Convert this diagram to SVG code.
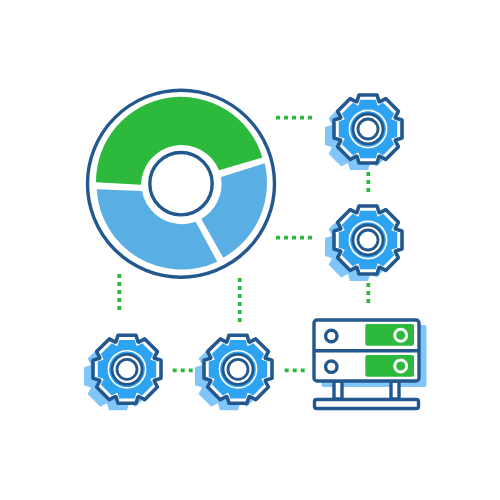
<svg xmlns="http://www.w3.org/2000/svg" xmlns:xlink="http://www.w3.org/1999/xlink" width="500" height="500" viewBox="0 0 500 500">
<style>
.dot{fill:none;stroke:#2cb93c;stroke-width:3.8;stroke-dasharray:4 4}
.dk{stroke:#23588f;stroke-width:3.4;fill:#fff}
.grn{fill:#2cb93c}
.bl{fill:#59aee3}
.shadow{fill:#80c6fa}
.wr{fill:none;stroke:#fff;stroke-width:1.6}
.dr{fill:none;stroke:#23588f;stroke-width:3.4}
.wc{fill:none;stroke:#fff;stroke-width:3}
</style>
<defs>
<path id="g" d="M-9,-34L9,-34L11,-27.5L11.7,-27.2L17.7,-30.4L30.4,-17.7L27.2,-11.7L27.5,-11L34,-9L34,9L27.5,11L27.2,11.7L30.4,17.7L17.7,30.4L11.7,27.2L11,27.5L9,34L-9,34L-11,27.5L-11.7,27.2L-17.7,30.4L-30.4,17.7L-27.2,11.7L-27.5,11L-34,9L-34,-9L-27.5,-11L-27.2,-11.7L-30.4,-17.7L-17.7,-30.4L-11.7,-27.2L-11,-27.5Z"/>
<g id="gear">
<use xlink:href="#g" href="#g" class="shadow" transform="translate(-9,7)"/>
<use xlink:href="#g" href="#g" fill="#fff" stroke="#23588f" stroke-width="3.6" stroke-linejoin="round"/>
<use xlink:href="#g" href="#g" fill="#2ea3f2" transform="scale(.86)"/>
<circle r="18.6" class="wr"/>
<circle r="15" fill="#fff" stroke="#23588f" stroke-width="2.8"/>
<circle r="10" fill="#fff" stroke="#23588f" stroke-width="2.8"/>
</g>
</defs>
<g id="connectors">
<path class="dot" d="M276,117.7H313"/>
<path class="dot" d="M276,237.7H313"/>
<path class="dot" d="M368.3,172V192"/>
<path class="dot" d="M368.3,283V304"/>
<path class="dot" d="M119.3,274V310"/>
<path class="dot" d="M239.7,278V322"/>
<path class="dot" d="M172.7,370.3H192.7"/>
<path class="dot" d="M284.7,370.3H304.7"/>
</g>
<g id="donut">
<circle cx="181" cy="183.7" r="93.5" fill="#fff" stroke="#23588f" stroke-width="3.4"/>
<path class="grn" d="M96,182.3A85 85 0 0 1 262.4,157.4L219,170.3A40.5 40.5 0 0 0 141,184.7Z"/>
<path class="bl" d="M264.7,163.3A86 86 0 0 1 223.3,257.7L201.3,219A40.5 40.5 0 0 0 221,177Z"/>
<path class="bl" d="M96.7,189.3A85 85 0 0 0 217.3,261.7L195.7,221.7A40.5 40.5 0 0 1 142,191Z"/>
<circle cx="181" cy="183.7" r="31.2" fill="#fff" stroke="#23588f" stroke-width="3.4"/>
</g>
<g id="gear1"><use xlink:href="#gear" href="#gear" x="368" y="129"/></g>
<g id="gear2"><use xlink:href="#gear" href="#gear" x="368" y="240"/></g>
<g id="gear3"><use xlink:href="#gear" href="#gear" x="127" y="369.3"/></g>
<g id="gear4"><use xlink:href="#gear" href="#gear" x="238" y="369.3"/></g>
<g id="server">
<rect x="321.5" y="325" width="105" height="62" rx="2" class="shadow"/>
<rect x="334" y="381" width="8" height="18" class="dk"/>
<rect x="391" y="381" width="8" height="18" class="dk"/>
<rect x="314.5" y="399.5" width="104" height="9" rx="2" class="dk"/>
<rect x="314" y="320" width="105" height="61" rx="3" class="dk"/>
<path class="dr" d="M314,350.7H419"/>
<rect x="365.3" y="324" width="48.7" height="21.7" rx="2" class="grn"/>
<rect x="365.3" y="355" width="48.7" height="21.7" rx="2" class="grn"/>
<circle cx="400.7" cy="335.3" r="6" class="wc"/>
<circle cx="400.7" cy="366" r="6" class="wc"/>
<circle cx="331.3" cy="336" r="5.7" class="dk"/>
<circle cx="331.3" cy="366.7" r="5.7" class="dk"/>
</g>
</svg>
